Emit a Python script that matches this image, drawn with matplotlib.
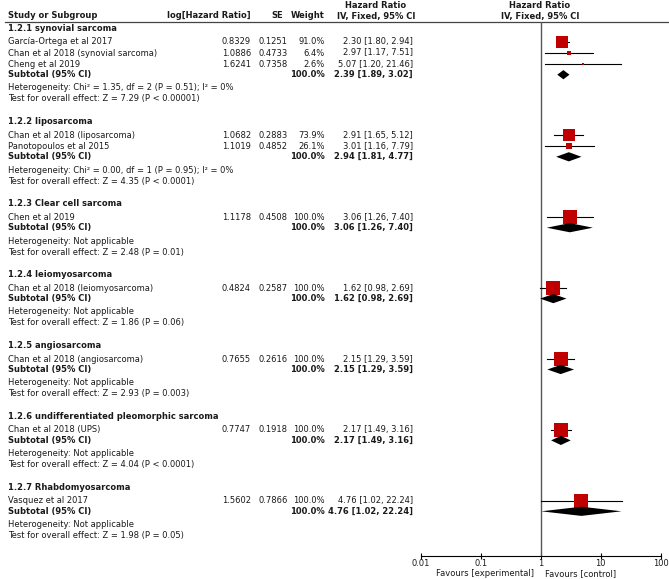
import numpy as np
import matplotlib.pyplot as plt

# subgroups
groups = ['1.2.1 synovial sarcoma', '1.2.2 liposarcoma', '1.2.3 Clear cell sarcoma',
          '1.2.4 leiomyosarcoma', '1.2.5 angiosarcoma',
          '1.2.6 undifferentiated pleomorphic sarcoma', '1.2.7 Rhabdomyosarcoma']

# studies per subgroup
studies = [['García-Ortega et al 2017', 'Chan et al 2018 (synovial sarcoma)', 'Cheng et al 2019'],
           ['Chan et al 2018 (liposarcoma)', 'Panotopoulos et al 2015'],
           ['Chen et al 2019'],
           ['Chan et al 2018 (leiomyosarcoma)'],
           ['Chan et al 2018 (angiosarcoma)'],
           ['Chan et al 2018 (UPS)'],
           ['Vasquez et al 2017']]
log_hr = [[0.8329, 1.0886, 1.6241], [1.0682, 1.1019], [1.1178], [0.4824], [0.7655], [0.7747], [1.5602]]
se = [[0.1251, 0.4733, 0.7358], [0.2883, 0.4852], [0.4508], [0.2587], [0.2616], [0.1918], [0.7866]]
weight = [[91.0, 6.4, 2.6], [73.9, 26.1], [100.0], [100.0], [100.0], [100.0], [100.0]]
hr = [[2.30, 2.97, 5.07], [2.91, 3.01], [3.06], [1.62], [2.15], [2.17], [4.76]]
hr_lo = [[1.80, 1.17, 1.20], [1.65, 1.16], [1.26], [0.98], [1.29], [1.49], [1.02]]
hr_hi = [[2.94, 7.51, 21.46], [5.12, 7.79], [7.40], [2.69], [3.59], [3.16], [22.24]]

# subtotals
sub_hr = [2.39, 2.94, 3.06, 1.62, 2.15, 2.17, 4.76]
sub_lo = [1.89, 1.81, 1.26, 0.98, 1.29, 1.49, 1.02]
sub_hi = [3.02, 4.77, 7.40, 2.69, 3.59, 3.16, 22.24]
heterogeneity = ['Chi² = 1.35, df = 2 (P = 0.51); I² = 0%',
                 'Chi² = 0.00, df = 1 (P = 0.95); I² = 0%',
                 'Not applicable', 'Not applicable', 'Not applicable',
                 'Not applicable', 'Not applicable']
overall = ['Z = 7.29 (P < 0.00001)', 'Z = 4.35 (P < 0.0001)', 'Z = 2.48 (P = 0.01)',
           'Z = 1.86 (P = 0.06)', 'Z = 2.93 (P = 0.003)', 'Z = 4.04 (P < 0.0001)',
           'Z = 1.98 (P = 0.05)']

ticks = [0.01, 0.1, 1, 10, 100]
tick_labels = ['0.01', '0.1', '1', '10', '100']

plt.rcParams['font.family'] = ['DejaVu Sans']
fs = 6.0
tc = '#1a1a1a'
sq_col = '#c00000'

W, H = 669, 579
fig = plt.figure(figsize=(W / 100, H / 100), dpi=100)

# text layer in pixel coordinates
tx = fig.add_axes([0, 0, 1, 1])
tx.set_xlim(0, W)
tx.set_ylim(H, 0)
tx.axis('off')

# forest panel: x in log HR, y in pixel rows
y_top, y_axis = 22, 555.7
x0, x1 = 420.7, 660.7
ax = fig.add_axes([x0 / W, (H - y_axis) / H, (x1 - x0) / W, (y_axis - y_top) / H])
ax.set_xscale('log')
ax.set_xlim(0.01, 100)
ax.set_ylim(y_axis, y_top)
ax.patch.set_visible(False)
for s in ['top', 'right', 'left']:
    ax.spines[s].set_visible(False)
ax.spines['bottom'].set_linewidth(0.8)
ax.set_yticks([])
ax.set_xticks(ticks)
ax.set_xticklabels(tick_labels, fontsize=fs, color=tc)
ax.minorticks_off()
ax.tick_params(axis='x', direction='inout', length=5, width=0.8, pad=0)
ax.axvline(1, color='#555555', lw=1)

# header
tx.text(8, 16, 'Study or Subgroup', fontsize=fs, fontweight='bold', color=tc, va='center')
tx.text(251, 16, 'log[Hazard Ratio]', fontsize=fs, fontweight='bold', color=tc, va='center', ha='right')
tx.text(283, 16, 'SE', fontsize=fs, fontweight='bold', color=tc, va='center', ha='right')
tx.text(325, 16, 'Weight', fontsize=fs, fontweight='bold', color=tc, va='center', ha='right')
for cx in [376, 540]:
    tx.text(cx, 5, 'Hazard Ratio', fontsize=fs, fontweight='bold', color=tc, va='center', ha='center')
    tx.text(cx, 16, 'IV, Fixed, 95% CI', fontsize=fs, fontweight='bold', color=tc, va='center', ha='center')
tx.plot([5, 668], [y_top, y_top], color='#444444', lw=0.9)

y = 28.3
for g in range(len(groups)):
    tx.text(8, y, groups[g], fontsize=fs, fontweight='bold', color=tc, va='center')
    ys = y + 13.5
    for i in range(len(studies[g])):
        tx.text(8, ys, studies[g][i], fontsize=fs, color=tc, va='center')
        tx.text(251, ys, f'{log_hr[g][i]:.4f}', fontsize=fs, color=tc, va='center', ha='right')
        tx.text(287.5, ys, f'{se[g][i]:.4f}', fontsize=fs, color=tc, va='center', ha='right')
        tx.text(325, ys, f'{weight[g][i]:.1f}%', fontsize=fs, color=tc, va='center', ha='right')
        tx.text(413, ys, f'{hr[g][i]:.2f} [{hr_lo[g][i]:.2f}, {hr_hi[g][i]:.2f}]',
                fontsize=fs, color=tc, va='center', ha='right')
        ax.plot([hr_lo[g][i], hr_hi[g][i]], [ys, ys], color='black', lw=0.8, clip_on=False)
        side = 13.3 * np.sqrt(weight[g][i] / 100) * 0.72
        ax.scatter([hr[g][i]], [ys], marker='s', s=side ** 2, color=sq_col, lw=0, zorder=3, clip_on=False)
        last = ys
        ys += 11.2
    ysub = last + 10.5
    tx.text(8, ysub, 'Subtotal (95% CI)', fontsize=fs, fontweight='bold', color=tc, va='center')
    tx.text(325, ysub, '100.0%', fontsize=fs, fontweight='bold', color=tc, va='center', ha='right')
    tx.text(413, ysub, f'{sub_hr[g]:.2f} [{sub_lo[g]:.2f}, {sub_hi[g]:.2f}]',
            fontsize=fs, fontweight='bold', color=tc, va='center', ha='right')
    ax.fill([sub_lo[g], sub_hr[g], sub_hi[g], sub_hr[g]],
            [ysub, ysub - 4.6, ysub, ysub + 4.6], color='black', lw=0, zorder=3, clip_on=False)
    yh = ysub + 13.3
    tx.text(8, yh, 'Heterogeneity: ' + heterogeneity[g], fontsize=fs, color=tc, va='center')
    yt = yh + 11
    tx.text(8, yt, 'Test for overall effect: ' + overall[g], fontsize=fs, color=tc, va='center')
    y = yt + 22.6

tx.text(534, 573.5, 'Favours [experimental]', fontsize=fs, color=tc, va='center', ha='right')
tx.text(545, 573.5, 'Favours [control]', fontsize=fs, color=tc, va='center', ha='left')

fig.savefig('out.png', dpi=100)
